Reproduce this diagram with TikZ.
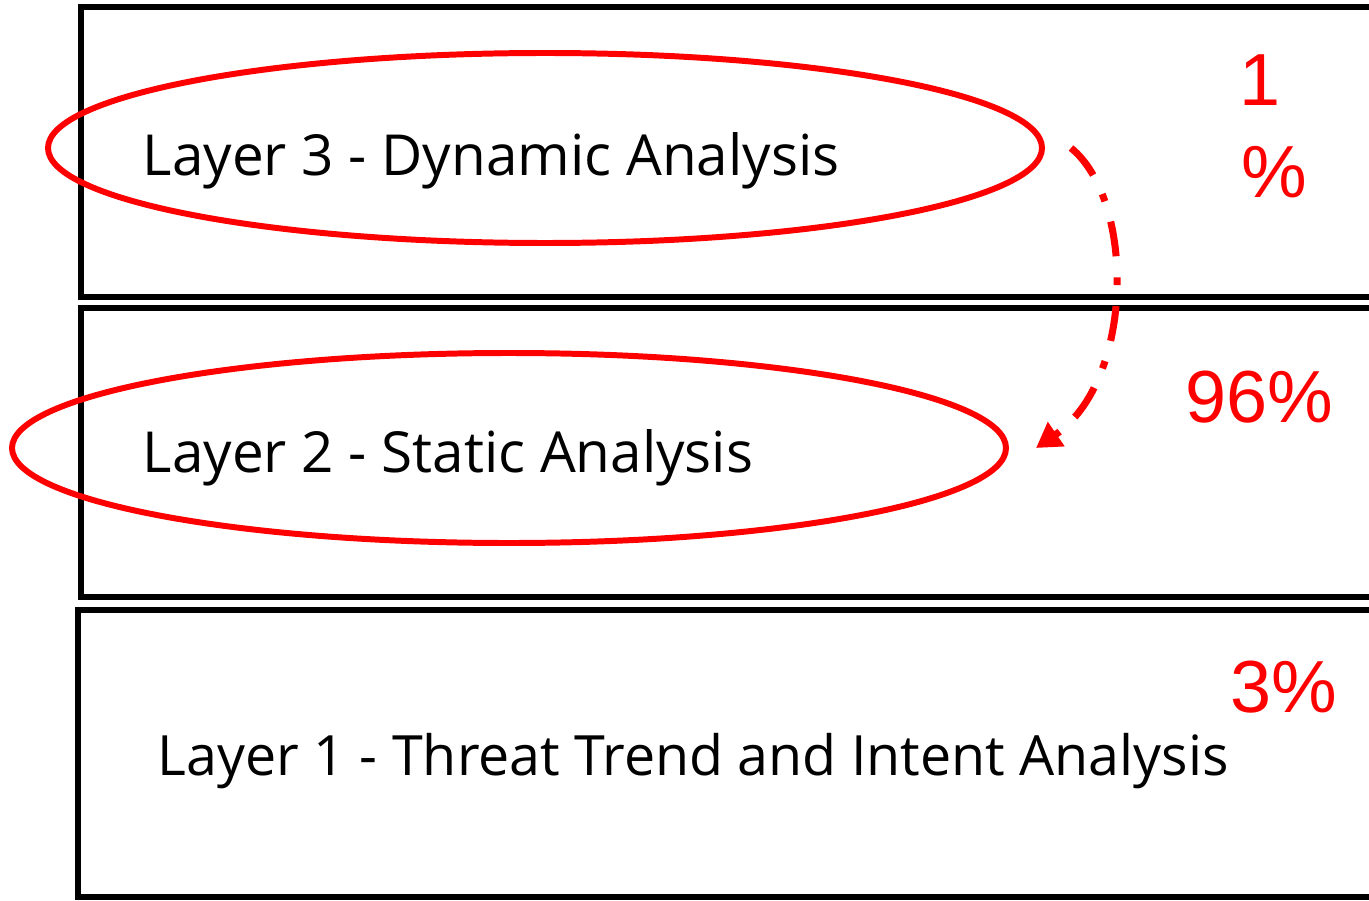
\documentclass[tikz,border=0pt]{standalone}
\usepackage{fontspec}
\setmainfont{Open Sans}
\newfontfamily\pctfont{Liberation Sans}
\usetikzlibrary{shapes.geometric,arrows.meta}
\definecolor{hilite}{RGB}{255,0,0}
\begin{document}
\begin{tikzpicture}[text centered]
    \useasboundingbox (0,0) rectangle (13.69,9);
    \begin{scope}[line width=1.6pt,font=\fontsize{16.1}{20}\selectfont]

    % layer boxes (right side runs off the page)
    \draw (13.8,8.93) -- (0.81,8.93) -- (0.81,6.03) -- (13.8,6.03);
    \draw (13.8,5.92) -- (0.81,5.92) -- (0.81,3.03) -- (13.8,3.03);
    \draw (13.8,2.90) -- (0.78,2.90) -- (0.78,0.03) -- (13.8,0.03);

    \node [anchor=base west,inner sep=0pt] (dyn) at (1.40,7.25) {Layer 3 - Dynamic Analysis};
    \node [anchor=base west,inner sep=0pt] (stat) at (1.40,4.28) {Layer 2 - Static Analysis};
    \node [anchor=base west,inner sep=0pt,font=\fontsize{15.8}{20}\selectfont] (trend) at (1.55,1.25) {Layer 1 - Threat Trend and Intent Analysis};

    \end{scope}

    \begin{scope}[hilite,line width=1.7pt,font=\pctfont\fontsize{21}{25}\selectfont]

    \node [draw,ellipse,minimum width=9.94cm,minimum height=1.9cm] (ring3) at (5.45,7.52) {};
    \node [draw,ellipse,minimum width=9.94cm,minimum height=1.9cm] (ring2) at (5.09,4.52) {};

    \draw [line width=2pt,-{Triangle[length=7pt,width=8pt]},dash pattern=on 10pt off 6pt on 2.2pt off 6pt]
        ([xshift=0.26cm]ring3.east) .. controls (11.35,7.0) and (11.35,5.2) .. ([xshift=0.27cm]ring2.east);

    \node [anchor=base] (p3a) at (12.60,7.94) {1};
    \node [anchor=base] (p3b) at (12.74,7.02) {\%};
    \node [anchor=base] (p2) at (12.59,4.78) {96\%};
    \node [anchor=base] (p1) at (12.84,1.88) {3\%};

    \end{scope}
\end{tikzpicture}
\end{document}
